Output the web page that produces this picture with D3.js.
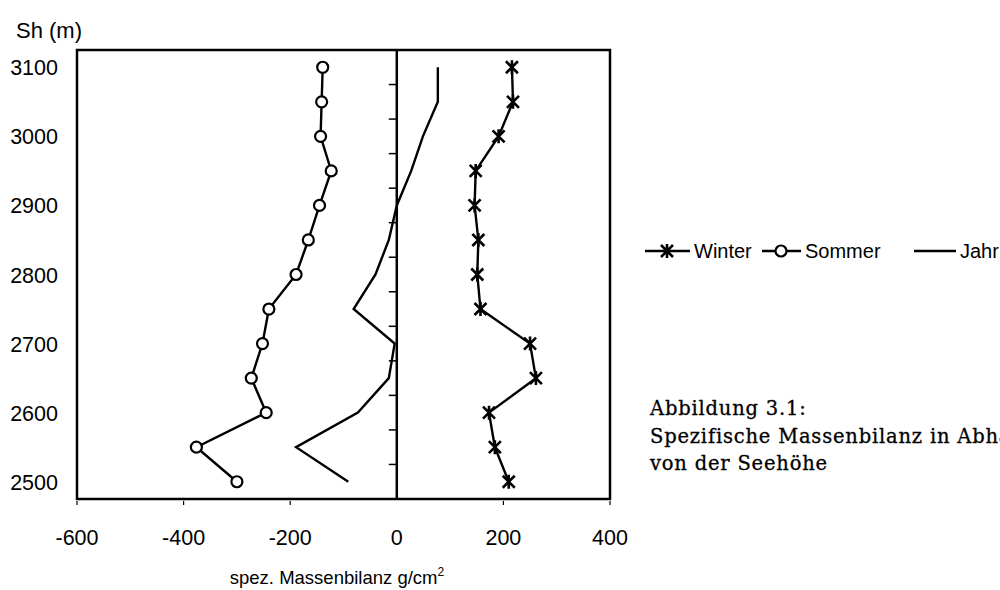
<!DOCTYPE html>
<html>
<head>
<meta charset="utf-8">
<script src="https://cdn.jsdelivr.net/npm/d3@7"></script>
<style>
  body { margin: 0; background: #fff; }
  svg { display: block; }
</style>
</head>
<body>
<div id="chart"></div>
<script>
// Seehöhe (m), von oben nach unten
const heights = [3100, 3050, 3000, 2950, 2900, 2850, 2800, 2750, 2700, 2650, 2600, 2550, 2500];
const winter  = [216, 218, 191, 148, 146, 153, 151, 157, 250, 261, 173, 184, 210];
const sommer  = [-139, -141, -143, -123, -145, -166, -189, -240, -252, -273, -245, -376, -300];
const jahr    = [77, 77, 49, 27, 0, -15, -40, -81, -4, -15, -73, -189, -91];
const xTicks  = [-600, -400, -200, 0, 200, 400];
const yLabels = [3100, 3000, 2900, 2800, 2700, 2600, 2500];

const W = 1000, H = 590;
const plot = { left: 77, right: 610, top: 50, bottom: 499 };
const sans = "'Liberation Sans', Arial, sans-serif";

const svg = d3.select("#chart").append("svg")
    .attr("width", W)
    .attr("height", H);

const x = d3.scaleLinear().domain([-600, 400]).range([plot.left, plot.right]);

// category axis: heights as bands, 3100 on top
const y = d3.scaleBand()
    .domain(heights)
    .range([plot.top, plot.bottom])
    .paddingInner(0).paddingOuter(0);
const yc = h => y(h) + y.bandwidth() / 2;

// frame
svg.append("rect")
    .attr("x", plot.left).attr("y", plot.top)
    .attr("width", plot.right - plot.left)
    .attr("height", plot.bottom - plot.top)
    .attr("fill", "none")
    .attr("stroke", "#000")
    .attr("stroke-width", 2.5);

// small ticks under the bottom line
svg.append("g").selectAll("line")
    .data(xTicks.filter(d => d !== 0))
    .enter().append("line")
    .attr("x1", d => x(d)).attr("x2", d => x(d))
    .attr("y1", plot.bottom + 2).attr("y2", plot.bottom + 6)
    .attr("stroke", "#000").attr("stroke-width", 1.2);

// x tick labels
svg.append("g").selectAll("text")
    .data(xTicks)
    .enter().append("text")
    .attr("x", d => x(d))
    .attr("y", 545)
    .attr("text-anchor", "middle")
    .attr("font-family", sans)
    .attr("font-size", 21.5)
    .text(d => d);

// zero line (category axis) with ticks at band boundaries
svg.append("line")
    .attr("x1", x(0)).attr("x2", x(0))
    .attr("y1", plot.top).attr("y2", plot.bottom)
    .attr("stroke", "#000").attr("stroke-width", 2.5);

svg.append("g").selectAll("line")
    .data(heights.slice(1))
    .enter().append("line")
    .attr("x1", x(0) - 8).attr("x2", x(0))
    .attr("y1", d => y(d)).attr("y2", d => y(d))
    .attr("stroke", "#000").attr("stroke-width", 1.5);

// y labels (every other category)
svg.append("g").selectAll("text")
    .data(yLabels)
    .enter().append("text")
    .attr("x", 58)
    .attr("y", d => yc(d) + 8)
    .attr("text-anchor", "end")
    .attr("font-family", sans)
    .attr("font-size", 21.5)
    .text(d => d);

svg.append("text")
    .attr("x", 16).attr("y", 38)
    .attr("font-family", sans)
    .attr("font-size", 22)
    .text("Sh (m)");

svg.append("text")
    .attr("x", 337).attr("y", 584)
    .attr("text-anchor", "middle")
    .attr("font-family", sans)
    .attr("font-size", 18.5)
    .text("spez. Massenbilanz g/cm")
    .append("tspan")
    .attr("dy", -8)
    .attr("font-size", 12)
    .text("2");

// lines
const line = d3.line()
    .x(d => x(d[1]))
    .y(d => yc(d[0]));

const drawLine = vals => svg.append("path")
    .datum(heights.map((h, i) => [h, vals[i]]))
    .attr("d", line)
    .attr("fill", "none")
    .attr("stroke", "#000")
    .attr("stroke-width", 2.4)
    .attr("stroke-linejoin", "miter");

drawLine(jahr);
drawLine(sommer);
drawLine(winter);

// markers
function circleMark(g, cx, cy) {
    g.append("circle")
        .attr("cx", cx).attr("cy", cy).attr("r", 5.5)
        .attr("fill", "#fff")
        .attr("stroke", "#000")
        .attr("stroke-width", 2.2);
}
function starMark(g, cx, cy) {
    const s = 6;
    const p = `M${cx - s},${cy - s}L${cx + s},${cy + s}M${cx - s},${cy + s}L${cx + s},${cy - s}M${cx},${cy - s - 1}L${cx},${cy + s + 1}`;
    g.append("path").attr("d", p)
        .attr("stroke", "#000").attr("stroke-width", 2.6).attr("fill", "none");
}

const mk = svg.append("g");
heights.forEach((h, i) => circleMark(mk, x(sommer[i]), yc(h)));
heights.forEach((h, i) => starMark(mk, x(winter[i]), yc(h)));

// legend
const lg = svg.append("g").attr("font-family", sans).attr("font-size", 20);
const ly = 251;
lg.append("line").attr("x1", 645).attr("x2", 690).attr("y1", ly).attr("y2", ly)
    .attr("stroke", "#000").attr("stroke-width", 2.4);
starMark(lg, 667, ly);
lg.append("text").attr("x", 694).attr("y", ly + 7).text("Winter");

lg.append("line").attr("x1", 762).attr("x2", 801).attr("y1", ly).attr("y2", ly)
    .attr("stroke", "#000").attr("stroke-width", 2.4);
circleMark(lg, 781, ly);
lg.append("text").attr("x", 805).attr("y", ly + 7).text("Sommer");

lg.append("line").attr("x1", 914).attr("x2", 956).attr("y1", ly).attr("y2", ly)
    .attr("stroke", "#000").attr("stroke-width", 2.4);
lg.append("text").attr("x", 960).attr("y", ly + 7).text("Jahr");

// caption (runs off the right edge as in the original)
const cap = svg.append("g")
    .attr("font-family", "'DejaVu Serif', serif")
    .attr("font-size", 19.5)
    .attr("letter-spacing", 0.8)
    .attr("stroke", "#000")
    .attr("stroke-width", 0.3);
const capLines = ["Abbildung 3.1:", "Spezifische Massenbilanz in Abhängigkeit", "von der Seehöhe"];
cap.selectAll("text")
    .data(capLines)
    .enter().append("text")
    .attr("x", 650)
    .attr("y", (d, i) => 415 + i * 27.5)
    .text(d => d);
</script>
</body>
</html>
